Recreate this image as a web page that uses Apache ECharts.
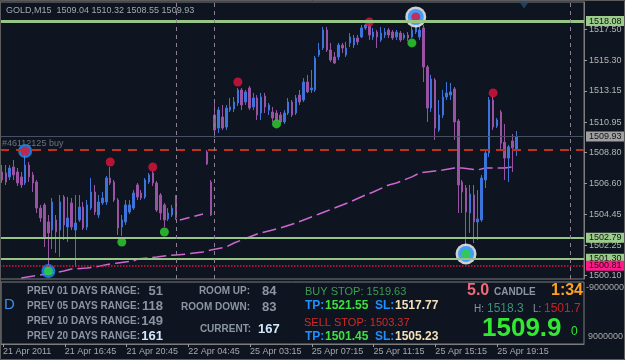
<!DOCTYPE html>
<html><head><meta charset="utf-8">
<script src="https://cdn.jsdelivr.net/npm/echarts@6/dist/echarts.min.js"></script>
<style>html,body{margin:0;padding:0;background:#0e1520;}#c{width:625px;height:360px;}</style>
</head><body><div id="c"></div><script>
const nBars = 151;
const tickIdx = [0,16,32,48,64,80,96,112,128];
const tickText = ['21 Apr 2011','21 Apr 16:45','21 Apr 20:45','22 Apr 04:45','25 Apr 03:15','25 Apr 07:15','25 Apr 11:15','25 Apr 15:15','25 Apr 19:15'];
const priceTicks = [1500.10,1502.25,1504.45,1506.60,1508.80,1510.95,1513.15,1515.30,1517.50];

const openP = [1507.43,1507.36,1507.08,1507.78,1507.43,1507.08,1506.65,1507.92,1507.22,1506.72,
1504.88,1505.10,1503.90,1503.33,1504.04,1503.33,1505.66,1503.54,1505.24,1503.33,
1504.04,1504.95,1503.54,1504.88,1506.01,1504.39,1505.24,1505.31,1507.00,1506.72,
1505.45,1503.54,1503.90,1504.60,1504.88,1506.51,1505.94,1505.66,1506.72,1507.36,
1506.65,1505.80,1505.10,1504.11,1504.39,1505.66,null,null,null,null,
null,null,null,1508.84,1506.72,1511.45,1510.53,1511.31,1510.60,1511.80,
1511.87,1512.30,1513.22,1512.37,1513.36,1512.02,1512.65,1511.59,1512.79,1511.80,
1511.66,1511.59,1511.45,1510.96,1511.59,1512.37,1511.59,1512.86,1512.51,1513.78,
1513.22,1513.22,1515.69,1516.18,1517.45,1516.04,1515.55,1515.55,1516.39,1515.69,
1516.54,1516.39,1516.89,1516.96,1517.60,1517.74,1516.96,1517.31,1516.75,1517.10,
1517.45,1517.31,1516.96,1517.24,1516.89,1517.10,1516.96,1517.31,1516.96,1517.60,
1514.84,1511.94,1513.92,1510.39,1511.45,1512.72,1512.86,1513.29,1511.03,1506.72,
1506.30,1504.53,1505.80,1503.90,1504.04,1506.86,1508.77,1512.51,1510.67,1511.66,
1509.53,1508.41,1509.62,1509.04];
const closeP = [1506.86,1506.72,1507.71,1507.22,1506.65,1506.51,1507.92,1507.08,1506.65,1504.88,
1504.18,1502.84,1503.12,1505.31,1503.19,1505.31,1503.69,1504.18,1503.54,1503.83,
1504.95,1503.47,1505.10,1506.01,1504.60,1505.31,1505.59,1507.00,1506.65,1505.45,
1503.47,1504.04,1505.10,1505.10,1505.94,1505.66,1505.59,1506.86,1507.22,1506.65,
1504.74,1504.53,1504.04,1504.53,1504.88,1504.18,null,null,null,null,
null,null,null,1507.99,1504.39,1510.39,1511.80,1510.53,1511.94,1512.02,
1512.37,1513.22,1512.16,1513.08,1511.94,1512.65,1511.45,1512.72,1512.02,1512.16,
1511.24,1511.10,1510.96,1511.59,1512.37,1511.45,1512.65,1512.37,1513.78,1513.08,
1513.36,1515.47,1516.04,1517.45,1516.04,1515.33,1515.12,1516.39,1516.18,1516.18,
1516.96,1516.89,1516.61,1517.60,1517.81,1517.10,1517.31,1516.96,1517.24,1517.31,
1517.10,1516.89,1517.31,1516.75,1517.10,1516.89,1517.45,1517.81,1517.45,1514.84,
1511.94,1513.99,1510.53,1511.45,1512.72,1513.01,1513.08,1510.96,1506.51,1506.01,
1504.60,1505.87,1503.90,1504.11,1507.00,1508.77,1512.51,1510.60,1511.10,1509.46,
1508.41,1509.20,1509.13,1509.93];
const lowP = [1506.65,1506.51,1506.86,1506.86,1506.44,1506.30,1506.51,1506.72,1506.01,1504.53,
1503.90,1502.13,1500.71,1501.98,1501.71,1501.43,1502.62,1502.48,1503.33,1500.71,
1503.90,1503.33,1503.33,1504.74,1504.39,1504.18,1505.10,1505.10,1506.51,1505.31,
1502.98,1502.91,1503.69,1504.46,1504.74,1505.45,1505.45,1505.52,1506.58,1506.44,
1504.60,1504.04,1503.54,1503.97,1504.25,1504.04,null,null,null,null,
null,null,null,1507.92,1504.32,1509.83,1510.18,1510.39,1510.39,1511.66,
1511.66,1512.09,1511.80,1512.16,1511.80,1511.80,1511.10,1511.10,1511.59,1511.45,
1510.96,1511.03,1510.89,1510.82,1511.45,1511.31,1511.45,1512.16,1512.37,1513.01,
1513.01,1513.08,1515.55,1516.04,1515.90,1515.19,1515.05,1515.33,1515.83,1515.55,
1516.25,1516.18,1516.39,1516.89,1517.45,1516.75,1516.75,1516.18,1516.61,1516.89,
1516.89,1516.75,1516.75,1516.61,1516.75,1516.68,1516.89,1517.17,1516.75,1513.78,
1510.96,1511.66,1509.69,1510.25,1511.24,1512.51,1512.51,1509.69,1504.53,1504.53,
1502.06,1503.12,1502.41,1502.62,1503.90,1506.30,1508.49,1510.39,1510.53,1508.98,
1506.86,1506.72,1507.43,1508.55];
const highP = [1507.92,1507.92,1507.92,1508.27,1507.71,1507.43,1508.63,1508.13,1507.43,1506.86,
1505.10,1505.24,1504.39,1505.59,1504.39,1505.80,1505.80,1505.66,1505.59,1505.80,
1505.80,1505.31,1505.45,1507.00,1506.51,1505.80,1506.01,1507.15,1507.78,1506.86,
1505.59,1504.39,1505.45,1505.45,1506.15,1506.65,1506.15,1507.00,1507.36,1507.50,
1506.79,1505.94,1505.24,1504.88,1505.10,1505.80,null,null,null,null,
null,null,null,1508.98,1506.86,1512.51,1512.02,1512.16,1512.16,1512.65,
1512.72,1513.36,1513.36,1513.22,1513.50,1513.01,1512.86,1513.01,1513.01,1512.30,
1512.02,1511.80,1511.66,1511.80,1512.65,1512.51,1512.86,1513.22,1514.06,1514.28,
1514.63,1515.62,1516.54,1517.67,1517.67,1516.54,1515.90,1516.54,1516.54,1516.61,
1517.24,1517.10,1517.10,1517.81,1517.88,1518.02,1517.60,1517.45,1517.67,1517.60,
1517.60,1517.45,1517.45,1517.38,1517.24,1517.31,1517.67,1518.09,1517.67,1517.81,
1514.98,1514.28,1514.06,1512.51,1513.22,1513.78,1513.71,1513.43,1511.17,1506.86,
1506.51,1506.51,1506.51,1506.15,1507.22,1508.98,1512.72,1512.79,1511.24,1511.80,
1510.82,1509.34,1510.11,1510.32];

const maIdx = [5,16,18,22,24,28,30,34,35,40,42,45,48,52,54,58,60,64,66,70,72,76,78,82,84,88,90,94,96,100,102,106,108,112,114,117,119,123,125,130,132];
const maVal = [1499.94,1500.43,1500.57,1500.64,1500.71,1500.93,1501.00,1501.14,1501.28,1501.43,1501.50,1501.57,1501.64,1501.78,1501.92,1502.13,1502.41,1502.84,1503.05,1503.33,1503.47,1503.83,1504.04,1504.46,1504.67,1505.10,1505.31,1505.80,1506.01,1506.51,1506.65,1507.08,1507.36,1507.50,1507.57,1507.71,1507.71,1507.57,1507.71,1507.71,1507.78];
const ma2Idx = [46,49,52];
const ma2Val = [1504.04,1504.25,1504.46];

const highSignals = [[6,1508.91],[28,1508.13],[39,1507.78],[61,1513.78],[95,1518.02],[107,1518.37],[127,1513.01]];
const lowSignals = [[12,1500.43],[31,1502.48],[42,1503.19],[71,1510.82],[106,1516.54],[120,1501.64]];
const circledSmall = [[6,1508.91],[12,1500.43]];
const circledBig = [[107,1518.37],[120,1501.64]];
const greenLevels = [1518.08,1502.79,1501.30];
const stopLevel = 1500.81;
const bidPrice = 1509.93;
const orderPrice = 1508.98;
const separators = [45,55,147];

const F = '"Liberation Sans", Arial, sans-serif';
const cats = Array.from({length:nBars},(_,i)=>String(i));
const candles = cats.map((_,i)=> (openP[i]==null) ? ['-','-','-','-'] : [openP[i],closeP[i],lowP[i],highP[i]]);
const maData = cats.map(()=>null); maIdx.forEach((k,j)=>{maData[k]=maVal[j];});
const ma2Data = cats.map(()=>null); ma2Idx.forEach((k,j)=>{ma2Data[k]=ma2Val[j];});

function txt(x,y,s,fill,size,weight,align){
  return {type:'text',x:x,y:y,silent:true,z:100,style:{text:s,fill:fill,fontSize:size,fontWeight:weight||'normal',fontFamily:F,
    align:align||'left',verticalAlign:'middle',textAlign:align||'left',textVerticalAlign:'middle'}};
}
const gray='#8b95a2';
const graphics = [
  {type:'rect',silent:true,z:100,shape:{x:0.5,y:0.5,width:624,height:359},style:{fill:'none',stroke:'#5c5c5c',lineWidth:1}},
  txt(6,11,'GOLD,M15  1509.04 1510.32 1508.55 1509.93','#a3a9b0',9),
  txt(4,305,'D','#3d8fe6',15),
  txt(27,291,'PREV 01 DAYS RANGE:',gray,10,'bold'),
  txt(27,306,'PREV 05 DAYS RANGE:',gray,10,'bold'),
  txt(27,321,'PREV 10 DAYS RANGE:',gray,10,'bold'),
  txt(27,336,'PREV 20 DAYS RANGE:',gray,10,'bold'),
  txt(163,291,'51',gray,13,'bold','right'),
  txt(163,306,'118',gray,13,'bold','right'),
  txt(163,321,'149',gray,13,'bold','right'),
  txt(163,336,'161','#d2e8ff',13,'bold','right'),
  txt(250,291,'ROOM UP:',gray,10,'bold','right'),
  txt(250,307,'ROOM DOWN:',gray,10,'bold','right'),
  txt(251,329,'CURRENT:',gray,10,'bold','right'),
  txt(262,291,'84',gray,13,'bold'),
  txt(262,307,'83',gray,13,'bold'),
  txt(258,329,'167','#d2e8ff',13,'bold'),
  txt(305,291.5,'BUY STOP: 1519.63','#3f9a55',11),
  txt(305,306,'TP:','#1e90ff',12,'bold'),
  txt(325,306,'1521.55','#3ee03e',12,'bold'),
  txt(375,306,'SL:','#1e90ff',12,'bold'),
  txt(395,306,'1517.77','#f3e0b8',12,'bold'),
  txt(304,322.5,'SELL STOP: 1503.37','#d42a2a',11),
  txt(305,337,'TP:','#1e90ff',12,'bold'),
  txt(325,337,'1501.45','#3ee03e',12,'bold'),
  txt(375,337,'SL:','#1e90ff',12,'bold'),
  txt(395,337,'1505.23','#f3e0b8',12,'bold'),
  txt(467,291,'5.0','#f26a78',16,'bold'),
  txt(494,292,'CANDLE',gray,10,'bold'),
  txt(583,291,'1:34','#ffa21f',16,'bold','right'),
  txt(474,309,'H:',gray,10),
  txt(487,309,'1518.3','#3f8f7a',12),
  txt(533,309,'L:',gray,10),
  txt(544,309,'1501.7','#cc2222',12),
  txt(482,329,'1509.9','#33e833',26,'bold'),
  txt(571,332,'0','#33e833',12),
  txt(586,288,'-9000000','#a8a8a8',9),
  txt(588,337,'9000000','#a8a8a8',9)
];

const lvlLabel = (bg,fg)=>({show:true,position:'end',distance:2,formatter:p=>Number(p.value).toFixed(2),backgroundColor:bg,color:fg,fontSize:9,fontFamily:F,padding:[1,3,0,3]});
const mlData = [];
greenLevels.forEach((v,j)=>mlData.push({yAxis:v,lineStyle:{color:'#97c585',width:j===0?3:2,type:'solid'},label:lvlLabel('#9ccc8c','#0a140a')}));
mlData.push({yAxis:stopLevel,lineStyle:{color:'#dc143c',width:1.5,type:'dotted'},label:lvlLabel('#ff1a8c','#300010')});
mlData.push({yAxis:bidPrice,lineStyle:{color:'#465062',width:1,type:'solid'},label:lvlLabel('#a0a0a0','#141414')});
mlData.push({yAxis:orderPrice,lineStyle:{color:'#c0301e',width:2,type:[9,7]},label:{show:true,position:'insideStartTop',distance:2,formatter:'#46112125 buy',color:'#6b7480',fontSize:9,fontFamily:F}});
separators.forEach(k=>mlData.push({xAxis:k,lineStyle:{color:'#8d8092',width:1,type:[4,4]},label:{show:false}}));

const option = {
  animation:false,
  backgroundColor:'#0e1520',
  grid:[
    {left:0,top:2,width:584,height:277,show:true,borderColor:'#7c7c7c',borderWidth:1},
    {left:0,top:282,width:584,height:62,show:true,borderColor:'#7c7c7c',borderWidth:1}
  ],
  xAxis:[
    {gridIndex:0,type:'category',data:cats,boundaryGap:true,axisLine:{show:false},axisTick:{show:false},axisLabel:{show:false},splitLine:{show:false}},
    {gridIndex:1,type:'category',data:cats,boundaryGap:true,axisLine:{show:true,lineStyle:{color:'#7c7c7c'}},
      axisTick:{show:true,alignWithLabel:true,interval:(i)=>tickIdx.includes(i),length:3,lineStyle:{color:'#9a9a9a'}},
      axisLabel:{interval:(i)=>tickIdx.includes(i),formatter:(v,i)=>{const j=tickIdx.indexOf(Number(v));return j>=0?tickText[j]:'';},align:'left',color:'#a8a8a8',fontSize:9,fontFamily:F,margin:3},
      splitLine:{show:false}}
  ],
  yAxis:[
    {gridIndex:0,type:'value',position:'right',min:1499.87,max:1519.43,splitLine:{show:false},
      axisLine:{show:true,lineStyle:{color:'#7c7c7c'}},
      axisTick:{show:true,customValues:priceTicks,length:3,lineStyle:{color:'#9a9a9a'}},
      axisLabel:{customValues:priceTicks,formatter:v=>Number(v).toFixed(2),color:'#b4b4b4',fontSize:9,fontFamily:F,margin:5}},
    {gridIndex:1,type:'value',position:'right',min:0,max:1,show:false}
  ],
  graphic:graphics,
  series:[
    {type:'line',xAxisIndex:0,yAxisIndex:0,data:maData,connectNulls:true,symbol:'none',silent:true,z:1,
      lineStyle:{color:'#cc66d0',width:1.5,type:[14,5]}},
    {type:'line',xAxisIndex:0,yAxisIndex:0,data:ma2Data,connectNulls:true,symbol:'none',silent:true,z:1,
      lineStyle:{color:'#cc66d0',width:1.5,type:[10,5]}},
    {type:'candlestick',xAxisIndex:0,yAxisIndex:0,data:candles,barWidth:2,silent:true,z:2,
      itemStyle:{color:'#3c74dc',color0:'#9a52a2',borderColor:'#3c74dc',borderColor0:'#9a52a2',borderWidth:1},
      markLine:{symbol:['none','none'],silent:true,animation:false,data:mlData}},
    {type:'scatter',xAxisIndex:0,yAxisIndex:0,data:circledBig,symbolSize:21,silent:true,z:3,itemStyle:{color:'#ffffff'}},
    {type:'scatter',xAxisIndex:0,yAxisIndex:0,data:circledBig,symbolSize:16,silent:true,z:3,itemStyle:{color:'#1e90ff'}},
    {type:'scatter',xAxisIndex:0,yAxisIndex:0,data:circledSmall,symbolSize:14,silent:true,z:3,itemStyle:{color:'#1e90ff'}},
    {type:'scatter',xAxisIndex:0,yAxisIndex:0,data:highSignals,symbolSize:9,silent:true,z:4,itemStyle:{color:'#e0143c'}},
    {type:'scatter',xAxisIndex:0,yAxisIndex:0,data:lowSignals,symbolSize:9,silent:true,z:4,itemStyle:{color:'#2ed52e'}},
    {type:'scatter',xAxisIndex:0,yAxisIndex:0,data:[[135,1519.22]],symbol:'triangle',symbolRotate:180,symbolSize:[10,7],silent:true,z:4,itemStyle:{color:'#2b4a6e'}},
    {type:'line',xAxisIndex:1,yAxisIndex:1,data:[],silent:true}
  ]
};
const chart = echarts.init(document.getElementById('c'),null,{renderer:'canvas'});
chart.setOption(option);
</script></body></html>
